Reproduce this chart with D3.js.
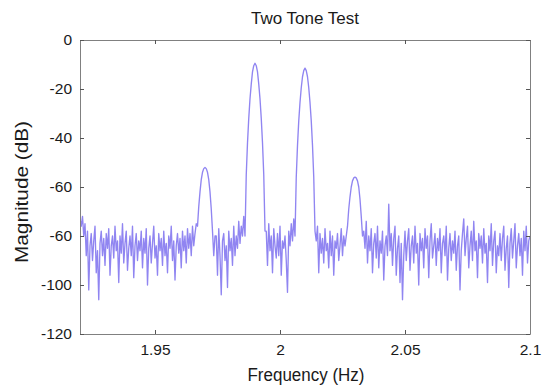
<!DOCTYPE html>
<html>
<head>
<meta charset="utf-8">
<script src="https://cdn.jsdelivr.net/npm/d3@7"></script>
<style>
  html, body { margin: 0; padding: 0; background: #fff; }
  svg { display: block; font-family: "Liberation Sans", Arial, sans-serif; }
</style>
</head>
<body>
<div id="chart"></div>
<script>
// ---------------- DATA ----------------
const chartTitle = "Two Tone Test";
const xLabel = "Frequency (Hz)";
const yLabel = "Magnitude (dB)";

const freqStart = 1.92;      // Hz, first sample
const freqStep = 0.0005;     // Hz, sample spacing

// magnitude (dB) by segment, left to right
const noiseLeft = [
  -73, -76, -72, -80, -75, -88, -78, -102, -84, -79,
  -90, -82, -76, -95, -86, -106, -83, -78, -88, -81,
  -92, -79, -85, -77, -96, -84, -80, -89, -76, -86,
  -82, -99, -80, -87, -75, -91, -83, -78, -94, -85,
  -80, -88, -76, -97, -84, -79, -90, -82, -86, -78,
  -93, -81, -87, -77, -100, -85, -80, -91, -83, -76,
  -89, -84, -96, -79, -86, -81, -92, -78, -88, -83,
  -95, -80, -85, -76, -90, -82, -98, -84, -79, -87,
  -81, -93, -78, -86, -80, -91, -77, -85, -79, -88,
  -76, -84, -79, -75
];
const sideToneLow = [-76, -68, -62, -57, -54, -52.5, -52, -52.5, -54, -57, -62, -69, -78, -88, -80];
const noiseB = [
  -80, -96, -77, -88, -104, -82, -79, -90, -84, -101,
  -78, -86, -81, -92, -76, -88, -80, -85, -74, -83,
  -76, -80, -72
];
const mainToneLow = [-80, -55, -42, -32, -24, -18, -13, -10.5, -9.5, -10.5, -13, -18, -24, -32, -42, -55, -78];
const noiseC = [
  -78, -92, -75, -86, -80, -95, -77, -84, -89, -79,
  -88, -76, -96, -82, -85, -80, -90, -103, -78, -84,
  -75, -82, -73
];
const mainToneHigh = [-80, -56, -43, -33, -25.5, -19.5, -15, -12.5, -11.5, -12.5, -15, -19.5, -25.5, -33, -43, -56, -78];
const noiseD = [
  -82, -76, -95, -79, -87, -81, -91, -77, -86, -83,
  -93, -78, -88, -80, -96, -82, -85, -79, -90, -84,
  -77, -88, -80
];
const sideToneHigh = [-84, -80, -76, -69, -64, -60, -57.5, -56.3, -56, -56.3, -57.5, -60, -65, -72, -80];
const noiseRight = [
  -78, -85, -74, -91, -80, -86, -77, -95, -83, -79,
  -89, -76, -93, -82, -87, -78, -98, -84, -80, -88,
  -67, -86, -79, -92, -81, -76, -96, -85, -80, -99,
  -83, -106, -88, -78, -90, -82, -77, -94, -84, -80,
  -91, -76, -87, -83, -100, -79, -86, -81, -93, -77,
  -85, -80, -97, -82, -75, -89, -84, -79, -92, -81,
  -86, -77, -95, -83, -80, -88, -76, -98, -85, -79,
  -90, -82, -87, -78, -94, -84, -80, -102, -86, -79,
  -73, -88, -81, -76, -93, -84, -78, -90, -74, -86,
  -82, -97, -79, -85, -80, -91, -77, -87, -83, -99,
  -80, -86, -75, -92, -82, -78, -95, -84, -88, -79,
  -90, -81, -76, -94, -85, -80, -101, -83, -77, -89,
  -82, -75, -93, -84, -79, -88, -81, -96, -78, -86,
  -76, -91, -82, -80
];

const xDomain = [1.92, 2.1];
const yDomain = [-120, 0];
const xTickValues = [1.95, 2, 2.05, 2.1];
const xTickLabels = ["1.95", "2", "2.05", "2.1"];
const yTickValues = [0, -20, -40, -60, -80, -100, -120];
const yTickLabels = ["0", "-20", "-40", "-60", "-60", "-100", "-120"];

// ---------------- CHART ----------------
const magnitudeDb = [].concat(noiseLeft, sideToneLow, noiseB, mainToneLow, noiseC,
                              mainToneHigh, noiseD, sideToneHigh, noiseRight);
const series = magnitudeDb.map((v, i) => ({ f: freqStart + i * freqStep, db: v }));

const W = 550, H = 392;
const margin = { left: 80, right: 20, top: 40, bottom: 58 };
const iw = W - margin.left - margin.right;
const ih = H - margin.top - margin.bottom;

const svg = d3.select("#chart").append("svg").attr("width", W).attr("height", H);

const x = d3.scaleLinear().domain(xDomain).range([margin.left, margin.left + iw]);
const y = d3.scaleLinear().domain(yDomain).range([margin.top + ih, margin.top]);

svg.append("clipPath").attr("id", "clip").append("rect")
  .attr("x", margin.left).attr("y", margin.top).attr("width", iw).attr("height", ih);

const line = d3.line().x(d => x(d.f)).y(d => y(d.db));
svg.append("path")
  .datum(series)
  .attr("clip-path", "url(#clip)")
  .attr("fill", "none")
  .attr("stroke", "#7466ee")
  .attr("stroke-opacity", 0.8)
  .attr("stroke-width", 1.35)
  .attr("stroke-linejoin", "round")
  .attr("d", line);

const axisColor = "#808080";
const tickFont = 15.5;

const xAxis = d3.axisBottom(x).tickValues(xTickValues)
  .tickFormat((d, i) => xTickLabels[i]).tickSizeInner(-4).tickSizeOuter(0).tickPadding(10);
const gx = svg.append("g").attr("transform", `translate(0,${margin.top + ih})`).call(xAxis);
const gxt = svg.append("g").attr("transform", `translate(0,${margin.top})`)
  .call(d3.axisTop(x).tickValues(xTickValues).tickFormat("").tickSizeInner(-4).tickSizeOuter(0));
const yAxis = d3.axisLeft(y).tickValues(yTickValues)
  .tickFormat((d, i) => yTickLabels[i]).tickSizeInner(-4).tickSizeOuter(0).tickPadding(8);
const gy = svg.append("g").attr("transform", `translate(${margin.left},0)`).call(yAxis);
const gyr = svg.append("g").attr("transform", `translate(${margin.left + iw},0)`)
  .call(d3.axisRight(y).tickValues(yTickValues).tickFormat("").tickSizeInner(-4).tickSizeOuter(0));

[gx, gxt, gy, gyr].forEach(g => {
  g.select(".domain").attr("stroke", axisColor).attr("stroke-width", 1);
  g.selectAll(".tick line").attr("stroke", "#555");
  g.selectAll(".tick text").attr("fill", "#1a1a1a")
    .style("font-size", tickFont + "px")
    .style("font-family", "'Liberation Sans', Arial, sans-serif");
});

svg.append("text")
  .attr("x", 305).attr("y", 24)
  .attr("text-anchor", "middle")
  .attr("fill", "#1a1a1a")
  .attr("textLength", 108).attr("lengthAdjust", "spacingAndGlyphs")
  .style("font-size", "16px")
  .text(chartTitle);

svg.append("text")
  .attr("x", 306).attr("y", 381)
  .attr("text-anchor", "middle")
  .attr("fill", "#1a1a1a")
  .attr("textLength", 117).attr("lengthAdjust", "spacingAndGlyphs")
  .style("font-size", "17.5px")
  .text(xLabel);

svg.append("text")
  .attr("transform", `translate(28,192) rotate(-90)`)
  .attr("text-anchor", "middle")
  .attr("fill", "#1a1a1a")
  .attr("textLength", 142).attr("lengthAdjust", "spacingAndGlyphs")
  .style("font-size", "18.5px")
  .text(yLabel);
</script>
</body>
</html>
